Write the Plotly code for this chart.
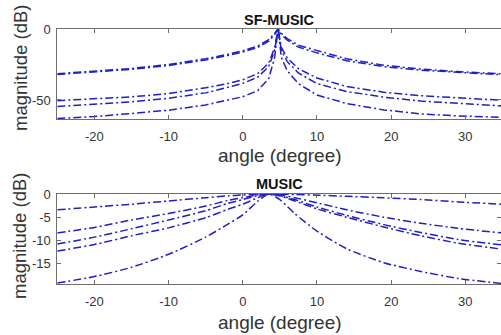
import plotly.graph_objects as go

# ---- SF-MUSIC spectra (top panel) ----
theta_sf = [-25, -20, -15, -10, -5, -2, 0, 2, 3.5, 4.3, 4.76, 5.2, 6, 7.5, 10, 14, 19, 24, 29, 35]
sf_curves = [
    [-31.5, -29.8, -27.8, -25.0, -21.0, -17.8, -15.3, -12.0, -7.5, -3.0, 0, -3.0, -6.8, -11.5, -15.3, -21.0, -25.5, -28.2, -30.0, -31.6],
    [-32.0, -30.4, -28.4, -25.7, -21.8, -18.6, -16.2, -13.0, -8.5, -3.8, 0, -3.8, -7.8, -12.8, -16.8, -22.3, -26.5, -29.0, -30.6, -32.3],
    [-50.5, -49.3, -47.8, -45.5, -41.4, -38.4, -35.8, -31.5, -24.0, -13.0, 0, -13.0, -20.5, -28.0, -34.5, -40.5, -44.5, -47.0, -48.6, -50.2],
    [-54.6, -53.2, -51.3, -48.8, -45.0, -41.0, -38.3, -34.0, -26.5, -15.0, 0, -15.0, -23.0, -31.0, -38.5, -44.0, -48.0, -50.8, -52.5, -54.2],
    [-63.0, -61.7, -59.5, -57.2, -53.5, -50.0, -47.7, -43.5, -35.0, -20.0, 0, -20.0, -29.5, -38.5, -46.5, -52.5, -57.0, -59.8, -61.2, -62.3],
]

# ---- MUSIC spectra (bottom panel) ----
theta_mu = [-25, -20, -15, -10, -5, -2, 0, 2, 3.5, 5, 7, 10, 14, 19, 24, 29, 35]
mu_curves = [
    [-3.4, -2.8, -2.2, -1.5, -0.8, -0.4, -0.2, -0.05, 0, -0.03, -0.1, -0.25, -0.5, -0.8, -1.2, -1.7, -2.2],
    [-8.4, -7.2, -5.6, -4.2, -2.6, -1.4, -0.8, -0.2, 0, -0.2, -0.8, -1.9, -3.4, -5.0, -6.3, -7.4, -8.4],
    [-10.8, -9.3, -7.5, -5.6, -3.6, -2.0, -1.2, -0.35, 0, -0.3, -1.2, -2.8, -4.6, -6.6, -8.3, -9.8, -11.0],
    [-12.3, -10.9, -9.0, -7.3, -5.1, -3.3, -2.2, -0.8, 0, -0.4, -1.5, -3.2, -5.0, -7.1, -9.0, -10.6, -11.9],
    [-19.2, -17.8, -15.8, -13.0, -9.3, -6.5, -4.5, -1.6, 0, -1.2, -4.2, -8.0, -11.8, -14.8, -16.7, -18.2, -19.3],
]

x_ticks = [-20, -10, 0, 10, 20, 30]
x_ticktext = ["-20", "-10", "0", "10", "20", "30"]
sf_yticks = [0, -50]
sf_yticktext = ["0", "-50"]
mu_yticks = [0, -5, -10, -15]
mu_yticktext = ["0", "-5", "-10", "-15"]

titles = ["SF-MUSIC", "MUSIC"]
x_label = "angle (degree)"
y_label = "magnitude (dB)"

W, H = 501, 335
LINE = "#1f1fc4"
AX = "#6e6e6e"
TXT = "#333333"
FONT = "Liberation Sans, Arial, sans-serif"
DASH = "8px,3px,2px,3px"

X_RANGE = [-25, 34.81]
X_DOM = [57.3 / W, 1.0]
TOP_DOM = [1 - 119 / H, 1 - 29 / H]
BOT_DOM = [1 - 284 / H, 1 - 194 / H]

fig = go.Figure()

for ys in sf_curves:
    fig.add_trace(go.Scatter(x=theta_sf, y=ys, mode="lines", xaxis="x", yaxis="y",
                             line=dict(color=LINE, width=1.5, dash=DASH), showlegend=False))
for ys in mu_curves:
    fig.add_trace(go.Scatter(x=theta_mu, y=ys, mode="lines", xaxis="x2", yaxis="y2",
                             line=dict(color=LINE, width=1.5, dash=DASH, shape="spline", smoothing=0.6),
                             showlegend=False))

tickfont = dict(family=FONT, size=13, color=TXT)


def xaxis(anchor):
    return dict(domain=X_DOM, range=X_RANGE, anchor=anchor, tickvals=x_ticks, ticktext=x_ticktext,
                ticks="inside", ticklen=4, tickcolor=AX, showline=True, linecolor=AX, linewidth=1,
                mirror="ticks", showgrid=False, zeroline=False, tickfont=tickfont,
                ticklabelstandoff=5, automargin=False)


def yaxis(anchor, dom, rng, vals, text):
    return dict(domain=dom, range=rng, anchor=anchor, tickvals=vals, ticktext=text,
                ticks="inside", ticklen=4, tickcolor=AX, showline=True, linecolor=AX, linewidth=1,
                showgrid=False, zeroline=False, tickfont=tickfont, ticklabelstandoff=3,
                automargin=False)


def yright(overlay, anchor, rng, vals):
    return dict(overlaying=overlay, anchor=anchor, side="right", range=rng, tickvals=vals,
                ticks="inside", ticklen=4, tickcolor=AX, showline=False, showticklabels=False,
                showgrid=False, zeroline=False, automargin=False)


SF_RANGE = [-63.4, 0]
MU_RANGE = [-19.4, 0]

fig.update_layout(
    width=W, height=H,
    margin=dict(l=0, r=0, t=0, b=0, autoexpand=False),
    paper_bgcolor="white", plot_bgcolor="white",
    xaxis=xaxis("y"),
    yaxis=yaxis("x", TOP_DOM, SF_RANGE, sf_yticks, sf_yticktext),
    xaxis2=xaxis("y2"),
    yaxis2=yaxis("x2", BOT_DOM, MU_RANGE, mu_yticks, mu_yticktext),
    yaxis3=yright("y", "x", SF_RANGE, sf_yticks),
    yaxis4=yright("y2", "x2", MU_RANGE, mu_yticks),
)

# empty traces so the right-hand tick axes get drawn
fig.add_trace(go.Scatter(x=[None], y=[None], xaxis="x", yaxis="y3", showlegend=False))
fig.add_trace(go.Scatter(x=[None], y=[None], xaxis="x2", yaxis="y4", showlegend=False))

ann = []
x_mid = (57.3 + 502.4) / 2 / W
for title, ty, xty, yty in [(titles[0], 20, 155, 68), (titles[1], 184, 322, 236)]:
    ann.append(dict(text="<b>%s</b>" % title, x=x_mid, y=1 - ty / H, xref="paper", yref="paper",
                    xanchor="center", yanchor="middle", showarrow=False,
                    font=dict(family=FONT, size=14.5, color="#111111")))
    ann.append(dict(text=x_label, x=x_mid, y=1 - xty / H, xref="paper", yref="paper",
                    xanchor="center", yanchor="middle", showarrow=False,
                    font=dict(family=FONT, size=19, color=TXT)))
    ann.append(dict(text=y_label, x=20 / W, y=1 - yty / H, xref="paper", yref="paper",
                    xanchor="center", yanchor="middle", showarrow=False, textangle=-90,
                    font=dict(family=FONT, size=18.5, color=TXT)))
fig.update_layout(annotations=ann)

fig.write_html("out.html", config={"displayModeBar": False})
